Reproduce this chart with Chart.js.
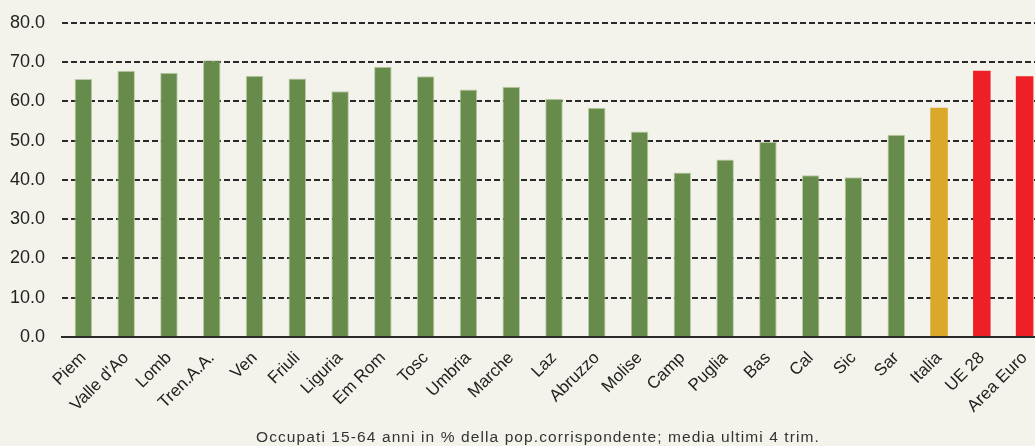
<!DOCTYPE html>
<html lang="it">
<head>
    <meta charset="UTF-8">
    <title>Tasso di occupazione</title>
    <script src="https://cdn.jsdelivr.net/npm/chart.js"></script>
    <style>
        body { margin: 0; background: #f4f3eb; overflow: hidden; }
        #wrap { position: relative; width: 1046px; height: 446px; }
        #note {
            position: absolute; top: 428px; left: 0; width: 1076px; text-align: center;
            font-family: "Liberation Sans", Arial, sans-serif; font-size: 15.5px;
            letter-spacing: 1.1px; color: #333; white-space: nowrap;
        }
    </style>
</head>
<body>
    <div id="wrap">
        <canvas id="occChart" width="1046" height="446"></canvas>
        <div id="note">Occupati 15-64 anni in % della pop.corrispondente;  media ultimi 4 trim.</div>
    </div>
    <script>
    // regioni e aggregati
    const regioni = ['Piem', "Valle d'Ao", 'Lomb', 'Tren.A.A.', 'Ven', 'Friuli', 'Liguria', 'Em Rom',
        'Tosc', 'Umbria', 'Marche', 'Laz', 'Abruzzo', 'Molise', 'Camp', 'Puglia', 'Bas', 'Cal',
        'Sic', 'Sar', 'Italia', 'UE 28', 'Area Euro'];
    // tasso di occupazione (%)
    const tasso = [65.7, 67.8, 67.3, 70.5, 66.5, 65.8, 62.6, 68.8, 66.4, 63.0, 63.7, 60.7,
        58.4, 52.3, 41.9, 45.2, 49.7, 41.2, 40.7, 51.5, 58.4, 67.8, 66.4];
    // gruppo: r = regione, i = Italia, e = Europa
    const gruppo = ['r','r','r','r','r','r','r','r','r','r','r','r','r','r','r','r','r','r','r','r','i','e','e'];
    const yTicks = [0, 10, 20, 30, 40, 50, 60, 70, 80];

    const fill = { r: '#678b4b', i: '#dba92a', e: '#ee2026' };
    const edge = { r: '#b9cba6', i: '#dba92a', e: '#ee2026' };

    const ctx = document.getElementById('occChart').getContext('2d');
    new Chart(ctx, {
        type: 'bar',
        data: {
            labels: regioni,
            datasets: [{
                data: tasso,
                backgroundColor: gruppo.map(g => fill[g]),
                borderColor: gruppo.map(g => edge[g]),
                borderWidth: gruppo.map(g => g === 'r' ? 1 : 0),
                categoryPercentage: 1,
                barPercentage: 0.41
            }]
        },
        options: {
            responsive: false,
            animation: false,
            layout: { padding: { top: 0, right: 0, left: 0, bottom: 0 } },
            plugins: { legend: { display: false }, tooltip: { enabled: false } },
            scales: {
                x: {
                    grid: { display: false },
                    border: { display: true, color: '#2a2a2a', width: 2 },
                    ticks: {
                        color: '#222', maxRotation: 45, minRotation: 45, autoSkip: false, padding: 3,
                        font: { family: 'Liberation Sans', size: 17 }
                    },
                    afterFit: s => { s.height = 109; }
                },
                y: {
                    min: yTicks[0],
                    max: yTicks[yTicks.length - 1],
                    afterBuildTicks: s => { s.ticks = yTicks.map(v => ({ value: v })); },
                    grid: { color: '#2a2a2a', lineWidth: 2, drawTicks: false },
                    border: { display: false, dash: [6, 3] },
                    ticks: {
                        color: '#222', padding: 17,
                        // small lineHeight keeps the plot top near the 80.0 label
                        font: { family: 'Liberation Sans', size: 18, lineHeight: 0.65 },
                        callback: v => v.toFixed(1)
                    },
                    afterFit: s => { s.width = 62; }
                }
            }
        }
    });
    </script>
</body>
</html>
